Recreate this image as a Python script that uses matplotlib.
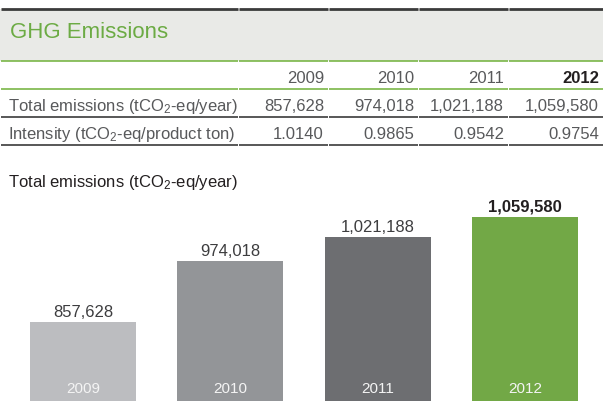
import matplotlib.pyplot as plt
from matplotlib.transforms import blended_transform_factory

plt.rcParams['font.family'] = ['Liberation Sans', 'DejaVu Sans']
plt.rcParams['mathtext.fontset'] = 'custom'
plt.rcParams['mathtext.rm'] = 'Liberation Sans'
plt.rcParams['mathtext.it'] = 'Liberation Sans'

# data
years = ['2009', '2010', '2011', '2012']
total_emissions = [857628, 974018, 1021188, 1059580]
intensity = [1.0140, 0.9865, 0.9542, 0.9754]
row_labels = ['Total emissions (tCO$_{\\mathregular{2}}$-eq/year)',
              'Intensity (tCO$_{\\mathregular{2}}$-eq/product ton)']

bar_colors = ['#bcbdc0', '#939598', '#6d6e71', '#72a846']
green = '#6cab44'
gray_txt = '#58595b'
dark_txt = '#231f20'

fig = plt.figure(figsize=(6.03, 4.02), dpi=100)

# table part, drawn in pixel coordinates
ax_t = fig.add_axes([0, 0, 1, 1])
ax_t.set_xlim(0, 603)
ax_t.set_ylim(402, 0)
ax_t.axis('off')

ax_t.fill_between([0, 603], 10, 62, color='#e9eae7', lw=0)
ax_t.text(10, 38, 'GHG Emissions', fontsize=16, color=green, va='baseline')

col_edges = [0, 238, 328, 418, 508, 603]


def seg_line(y, color, lw):
    for a, b in zip(col_edges[:-1], col_edges[1:]):
        ax_t.plot([a + 0.5, b - 0.5], [y, y], color=color, lw=lw, solid_capstyle='butt')


seg_line(9.5, '#3b3b3b', 2.0)
seg_line(62, '#7ab648', 1.2)
seg_line(90, '#7ab648', 1.2)
seg_line(118, '#3b3b3b', 1.2)
seg_line(146, '#3b3b3b', 1.2)

for i, yr in enumerate(years):
    x = col_edges[i + 2] - 4
    last = i == len(years) - 1
    ax_t.text(x, 83, yr, fontsize=12, ha='right', va='baseline',
              color=dark_txt if last else gray_txt,
              fontweight='bold' if last else 'normal')
    ax_t.text(x, 111, f'{total_emissions[i]:,}', fontsize=12, ha='right',
              va='baseline', color=gray_txt)
    ax_t.text(x, 139, f'{intensity[i]:.4f}', fontsize=12, ha='right',
              va='baseline', color=gray_txt)

ax_t.text(8, 111, row_labels[0], fontsize=12, color=gray_txt, va='baseline')
ax_t.text(8, 139, row_labels[1], fontsize=12, color=gray_txt, va='baseline')

ax_t.text(8, 187, row_labels[0], fontsize=12, color=dark_txt, va='baseline')

# bar chart
ax = fig.add_axes([0, 0, 1, 202 / 402])
x = list(range(len(years)))
ax.bar(x, total_emissions, width=0.72, color=bar_colors)
ax.set_xlim(-0.5635, 3.5295)
ax.set_ylim(705700, 1094200)
ax.axis('off')

for i, v in enumerate(total_emissions):
    last = i == len(years) - 1
    ax.annotate(f'{v:,}', (i, v), xytext=(0, 4.5), textcoords='offset points',
                ha='center', va='baseline', fontsize=12,
                color=dark_txt if last else '#3d3d3f',
                fontweight='bold' if last else 'normal')

trans = blended_transform_factory(ax.transData, ax.transAxes)
for i, yr in enumerate(years):
    ax.annotate(yr, (i, 0), xycoords=trans, xytext=(0, 6.5),
                textcoords='offset points', ha='center', va='baseline',
                fontsize=11, color='#f4f4f4')

fig.savefig('out.png', dpi=100)
